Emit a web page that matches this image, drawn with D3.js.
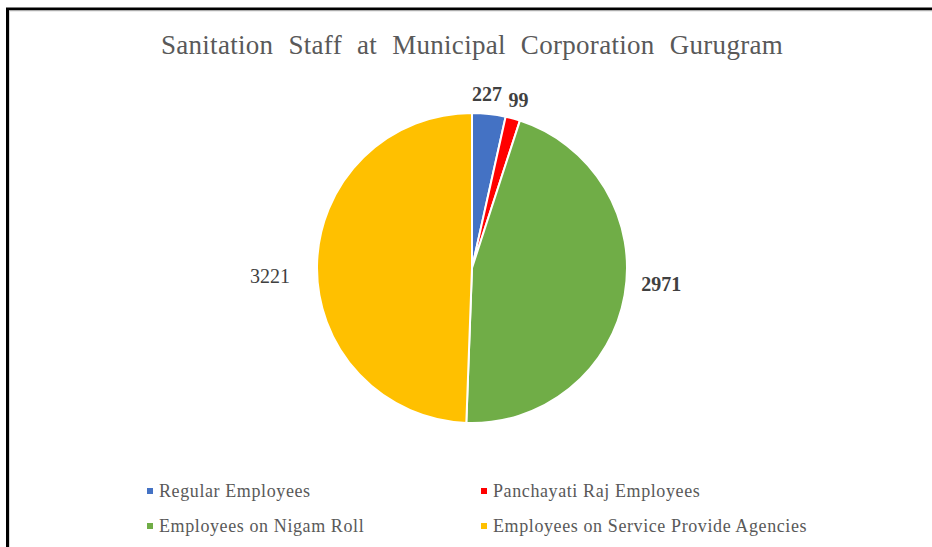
<!DOCTYPE html>
<html>
<head>
<meta charset="utf-8">
<script src="https://cdnjs.cloudflare.com/ajax/libs/d3/7.8.5/d3.min.js"></script>
<style>
  body { margin: 0; background: #fff; }
  svg { display: block; }
  text { font-family: "Liberation Serif", "Times New Roman", serif; }
</style>
</head>
<body>
<div id="chart"></div>
<script>
var categories = ["Regular Employees", "Panchayati Raj Employees", "Employees on Nigam Roll", "Employees on Service Provide Agencies"];
var values = [227, 99, 2971, 3221];
var colors = ["#4472C4", "#FF0000", "#70AD47", "#FFC000"];
var title = "Sanitation Staff at Municipal Corporation Gurugram";

var W = 932, H = 547;
var cx = 472, cy = 268, r = 155;
var boldLabel = [true, true, true, false];
// small label nudges (best-fit placement)
var nudge = [[-5, 3], [0, 4], [5, -15], [-15, 11]];

var svg = d3.select("#chart").append("svg").attr("width", W).attr("height", H);

// chart frame
svg.append("rect").attr("x", 7.5).attr("y", 9).attr("width", 1000).attr("height", 1000)
	.attr("fill", "none").attr("stroke", "#000").attr("stroke-width", 3);
svg.append("rect").attr("x", 9.5).attr("y", 11).attr("width", 1000).attr("height", 1000)
	.attr("fill", "none").attr("stroke", "#d9d9d9").attr("stroke-width", 1);

svg.append("text").attr("class", "title")
	.attr("x", cx).attr("y", 54)
	.attr("text-anchor", "middle")
	.style("font-size", "27px").style("fill", "#595959")
	.style("letter-spacing", "0.3px").style("word-spacing", "8px")
	.text(title);

var pie = d3.pie().sort(null).value(function(d) { return d; });
var arcs = pie(values);
var arc = d3.arc().innerRadius(0).outerRadius(r);

var g = svg.append("g").attr("transform", "translate(" + cx + "," + cy + ")");

g.selectAll("path").data(arcs).enter().append("path")
	.attr("d", arc)
	.attr("fill", function(d, i) { return colors[i]; })
	.attr("stroke", "#fff").attr("stroke-width", 2).attr("stroke-linejoin", "round");

// data labels outside end
var labels = g.selectAll(".lbl").data(arcs).enter().append("text")
	.attr("class", "lbl")
	.style("font-size", "20px").style("fill", "#404040")
	.style("font-weight", function(d, i) { return boldLabel[i] ? "bold" : "normal"; })
	.attr("text-anchor", "middle")
	.attr("dy", "0.35em")
	.text(function(d) { return d.data; });

labels.each(function(d, i) {
	var bb = this.getBBox();
	var a = (d.startAngle + d.endAngle) / 2;
	var rr = r + 12;
	var x = Math.sin(a) * rr + Math.sin(a) * bb.width / 2 + nudge[i][0];
	var y = -Math.cos(a) * rr - Math.cos(a) * bb.height / 2 + nudge[i][1];
	d3.select(this).attr("x", x).attr("y", y);
});

// legend
var legX = [147, 481], legY = [491, 526];
var leg = svg.selectAll(".leg").data(categories).enter().append("g")
	.attr("class", "leg")
	.attr("transform", function(d, i) { return "translate(" + legX[i % 2] + "," + legY[Math.floor(i / 2)] + ")"; });
leg.append("rect").attr("x", 0).attr("y", -3).attr("width", 6).attr("height", 6)
	.attr("fill", function(d, i) { return colors[i]; });
leg.append("text").attr("x", 12).attr("y", 6)
	.style("font-size", "18px").style("fill", "#595959").style("letter-spacing", "0.6px")
	.text(function(d) { return d; });
</script>
</body>
</html>
